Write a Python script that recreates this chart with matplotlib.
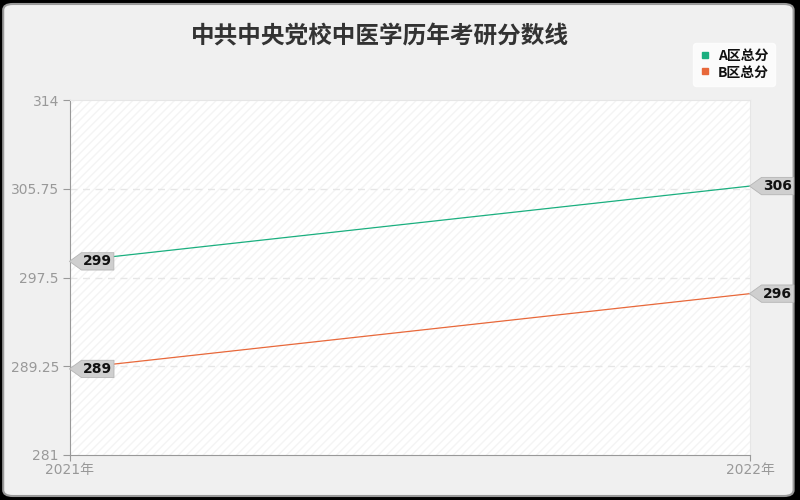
import matplotlib
matplotlib.use("Agg")
import matplotlib.pyplot as plt
from matplotlib.patches import FancyBboxPatch, Rectangle
from matplotlib.path import Path
from matplotlib.lines import Line2D

plt.rcParams['font.family'] = ['Noto Sans CJK SC', 'DejaVu Sans']

title = "中共中央党校中医学历年考研分数线"
years = ["2021年", "2022年"]
series_names = ["A区总分", "B区总分"]
a_values = [299, 306]
b_values = [289, 296]
y_ticks = [281, 289.25, 297.5, 305.75, 314]
y_tick_labels = ["281", "289.25", "297.5", "305.75", "314"]
colors = ["#1aaf7f", "#e8683a"]

fig = plt.figure(figsize=(8, 5), dpi=100, facecolor="black")
bg = FancyBboxPatch((0.004, 0.008), 0.988, 0.984, boxstyle="round,pad=0,rounding_size=0.012",
                    transform=fig.transFigure, facecolor="#f0f0f0", edgecolor="#9a9a9a",
                    linewidth=1.5, zorder=-10)
fig.patches.append(bg)

ax = fig.add_axes([70/800, 45/500, 680/800, 355/500])
ax.set_zorder(1)
ax.set_facecolor("white")
ax.add_patch(Rectangle((0, 0), 1, 1, transform=ax.transAxes, facecolor="none",
                       edgecolor="#f4f4f4", hatch="////", linewidth=0, zorder=0))

x = list(range(len(years)))
ax.plot(x, a_values, color=colors[0], linewidth=0.9, zorder=3)
ax.plot(x, b_values, color=colors[1], linewidth=0.9, zorder=3)

ax.set_xlim(0, 1)
ax.set_ylim(281, 314)
ax.set_yticks(y_ticks)
ax.set_yticklabels(y_tick_labels)
ax.set_xticks(x)
ax.set_xticklabels(years)
ax.tick_params(axis='both', colors="#999999", labelcolor="#999999", labelsize=10, length=5, pad=3)
ax.tick_params(axis='x', length=4, pad=1.5)
for lab in ax.get_xticklabels() + ax.get_yticklabels():
    lab.set_family(['DejaVu Sans', 'Noto Sans CJK SC'])
for yv in y_ticks[1:-1]:
    ax.axhline(yv, color="#e6e6e6", linestyle=(0, (5, 4)), linewidth=1, zorder=1)
for s in ["left", "bottom"]:
    ax.spines[s].set_color("#999999")
for s in ["top", "right"]:
    ax.spines[s].set_color("#e6e6e6")


def tag_box(x0, y0, width, height, mutation_size):
    px = 0.12 * mutation_size
    py = 0.12 * mutation_size
    x0 -= px
    y0 -= py
    w = width + 2 * px
    h = height + 2 * py
    tip = h * 0.7
    verts = [(x0 - tip, y0 + h / 2), (x0, y0 + h), (x0 + w, y0 + h), (x0 + w, y0),
             (x0, y0), (x0 - tip, y0 + h / 2)]
    codes = [Path.MOVETO, Path.LINETO, Path.LINETO, Path.LINETO, Path.LINETO, Path.CLOSEPOLY]
    return Path(verts, codes)


def label(xv, yv, text):
    ax.annotate(text, (xv, yv), xytext=(9.5, 0), textcoords="offset points",
                ha="left", va="center", fontsize=10, fontweight="bold", color="#111111",
                family=['DejaVu Sans'],
                bbox=dict(boxstyle=tag_box, facecolor="#cfcfcf", edgecolor="#b5b5b5", linewidth=0.6),
                zorder=5, annotation_clip=False)

for i, v in enumerate(a_values):
    label(x[i], v, str(v))
for i, v in enumerate(b_values):
    label(x[i], v, str(v))

fig.text(380/800, 1 - 37/500, title, ha="center", va="center", fontsize=17, fontweight="bold", color="#333333")

handles = [Line2D([], [], marker="s", linestyle="none", color=c, markersize=4) for c in colors]
leg = fig.legend(handles, series_names, loc="upper right", bbox_to_anchor=(775/800, 1 - 43/500),
                 frameon=True, handlelength=0.8, handletextpad=0.5, borderaxespad=0,
                 borderpad=0.45, labelspacing=0.15, prop={'weight': 'bold', 'size': 10})
leg.get_frame().set_facecolor("white")
leg.get_frame().set_edgecolor("white")
for t in leg.get_texts():
    t.set_color("#111111")

fig.savefig("out.png", dpi=100, facecolor=fig.get_facecolor())
